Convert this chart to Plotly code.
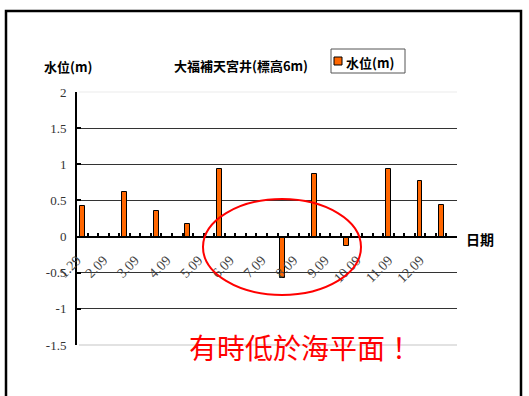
import plotly.graph_objects as go

# Observation slots (ten-day periods across the year) and groundwater level (m)
obs_slot = [0, 4, 7, 10, 13, 16, 19, 22, 25, 29, 32, 34]
level = [0.42, 0.62, 0.35, 0.17, 0.93, -0.02, -0.57, 0.87, -0.13, 0.93, 0.77, 0.43]

# Date labels on the horizontal axis and the slot they sit on
tick_slot = [-0.5, 2, 5, 8, 11, 14, 17, 20, 23, 26, 29, 32]
tick_text = ["1.29", "2.09", "3.09", "4.09", "5.09", "6.09", "7.09", "8.09",
             "9.09", "10.09", "11.09", "12.09"]
n_slots = 36

y_ticks = [-1.5, -1, -0.5, 0, 0.5, 1, 1.5, 2]
y_tick_text = ["-1.5", "-1", "-0.5", "0", "0.5", "1", "1.5", "2"]
y_range = [-1.5, 2]

W, H = 529, 396
L, R, T, B = 77, 457, 92, 345


def px(x):
    return (x - L) / (R - L)


def py(y):
    return (B - y) / (B - T)


serif = "Liberation Serif"
cjk = "Noto Sans CJK TC"
zero_pos = -y_range[0] / (y_range[1] - y_range[0])

fig = go.Figure()
fig.add_trace(go.Bar(
    x=obs_slot, y=level, width=0.45, name="水位(m)",
    marker=dict(color="#FF6600", line=dict(color="#000000", width=1)),
    showlegend=False,
))

fig.update_layout(
    width=W, height=H,
    margin=dict(l=L, r=W - R, t=T, b=H - B),
    paper_bgcolor="white", plot_bgcolor="white",
    bargap=0,
    xaxis=dict(
        range=[-0.5, n_slots - 0.5],
        anchor="free", position=zero_pos,
        showline=True, linecolor="black", linewidth=2,
        showgrid=False, zeroline=False,
        tickmode="array", tickvals=tick_slot, ticktext=tick_text,
        ticks="", tickangle=-45, ticklabelstandoff=9,
        tickfont=dict(family=serif, size=14, color="#444444"),
    ),
    # category boundary tick marks along the zero line
    xaxis2=dict(
        range=[-0.5, n_slots - 0.5], overlaying="x",
        anchor="free", position=zero_pos, side="bottom",
        showline=False, showgrid=False, zeroline=False, showticklabels=False,
        tickmode="array", tickvals=[k + 0.5 for k in range(n_slots)],
        ticks="inside", ticklen=4, tickwidth=2, tickcolor="black",
    ),
    yaxis=dict(
        range=y_range,
        showline=True, linecolor="black", linewidth=2,
        tickmode="array", tickvals=y_ticks, ticktext=y_tick_text,
        ticks="inside", ticklen=4, tickwidth=2, tickcolor="black",
        ticklabelstandoff=6,
        showgrid=True, gridcolor="#333333", gridwidth=1,
        zeroline=False,
        tickfont=dict(family=serif, size=13, color="#333333"),
    ),
)

# invisible trace so the boundary-tick axis is drawn
fig.add_trace(go.Scatter(x=[None], y=[None], xaxis="x2", showlegend=False, hoverinfo="skip"))

shapes = [
    # soften the grid lines at the top and bottom edge of the plot area
    dict(type="line", xref="paper", yref="paper", x0=px(L + 2), x1=1, y0=1, y1=1,
         line=dict(color="#f2f2f2", width=1.5), layer="above"),
    dict(type="line", xref="paper", yref="paper", x0=px(L + 2), x1=1, y0=0, y1=0,
         line=dict(color="#d9d9d9", width=1.5), layer="above"),
    # outer frame
    dict(type="rect", xref="paper", yref="paper",
         x0=px(6), x1=px(521), y0=py(11), y1=py(402),
         line=dict(color="black", width=2.5)),
    # legend box and swatch
    dict(type="rect", xref="paper", yref="paper",
         x0=px(331), x1=px(405), y0=py(73), y1=py(49),
         line=dict(color="#555555", width=1), fillcolor="white"),
    dict(type="rect", xref="paper", yref="paper",
         x0=px(334), x1=px(342), y0=py(65), y1=py(57),
         line=dict(color="black", width=1), fillcolor="#FF6600"),
    # highlight around the below-sea-level readings
    dict(type="circle", xref="paper", yref="paper",
         x0=px(203), x1=px(361), y0=py(295), y1=py(199),
         line=dict(color="#FF0000", width=2), layer="above"),
]
fig.update_layout(shapes=shapes)

bold = dict(family=cjk, size=13, color="black", weight="bold")
annotations = [
    dict(text="水位(m)", x=px(68), y=py(67), font=bold),
    dict(text="大福補天宮井(標高6m)", x=px(241), y=py(66), font=bold),
    dict(text="水位(m)", x=px(344), y=py(62), xanchor="left", font=bold),
    dict(text="日期", x=px(480), y=py(239), font=dict(family=cjk, size=14, color="black", weight="bold")),
    dict(text="有時低於海平面！", x=px(301), y=py(347),
         font=dict(family=cjk, size=28, color="#FF0000")),
]
for a in annotations:
    a.setdefault("xanchor", "center")
    fig.add_annotation(xref="paper", yref="paper", showarrow=False, yanchor="middle", **a)

fig.write_html("out.html")
